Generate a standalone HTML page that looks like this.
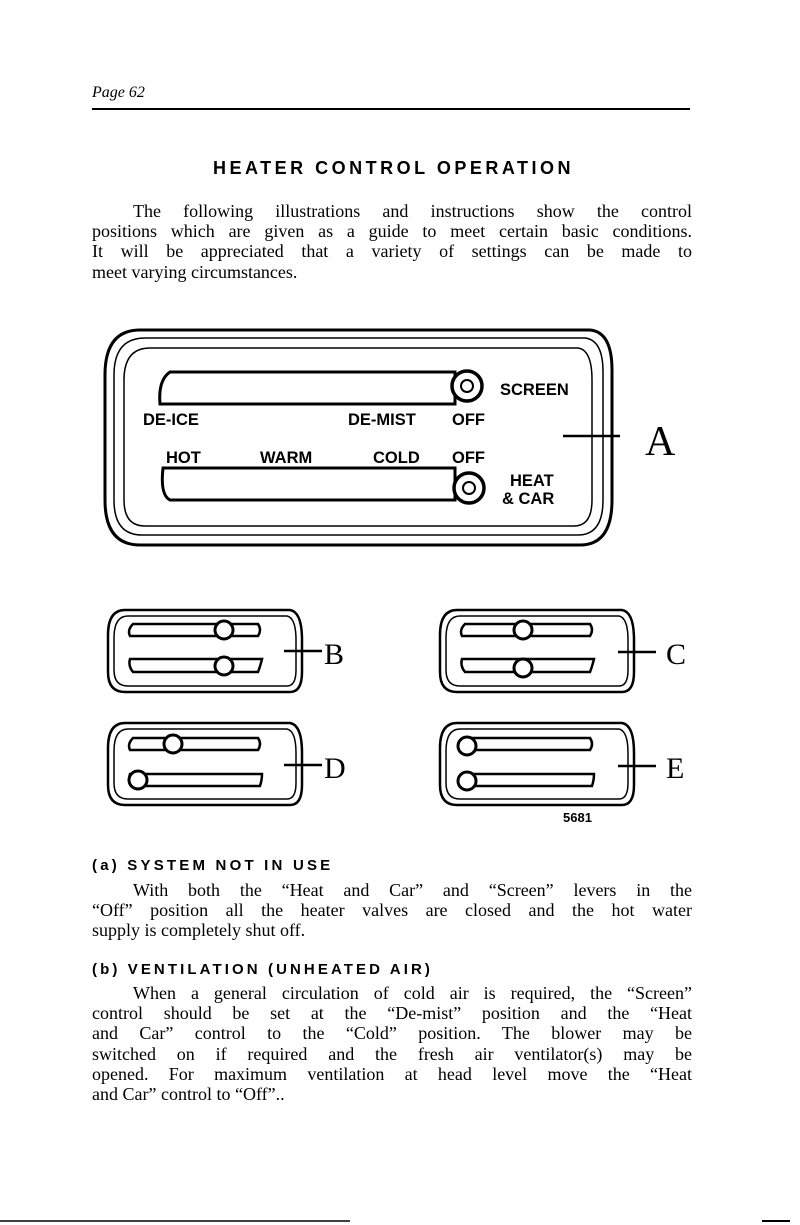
<!DOCTYPE html>
<html><head><meta charset="utf-8"><style>
body{margin:0;width:800px;height:1225px;background:#fff;position:relative;overflow:hidden;font-family:"Liberation Serif",serif;color:#000}
.a{position:absolute}
.p{position:absolute;left:92px;width:600px;font-size:18px;line-height:20.2px;text-align:justify;text-align-last:justify}
.p span{display:block}
.last{text-align-last:left}
.h{position:absolute;font-family:"Liberation Sans",sans-serif;font-weight:bold;font-size:15px;letter-spacing:3.1px}
</style></head><body>
<div class="a" style="left:92px;top:84px;font-style:italic;font-size:16px">Page 62</div>
<div class="a" style="left:92px;top:108px;width:598px;height:1.5px;background:#000"></div>
<div class="a" style="left:213px;top:158px;font-family:'Liberation Sans',sans-serif;font-weight:bold;font-size:18px;letter-spacing:3.5px">HEATER CONTROL OPERATION</div>
<div class="p" style="top:201px">
<span style="padding-left:41px">The following illustrations and instructions show the control</span>
<span>positions which are given as a guide to meet certain basic conditions.</span>
<span>It will be appreciated that a variety of settings can be made to</span>
<span class="last" style="text-align:left">meet varying circumstances.</span>
</div>
<svg class="a" style="left:0;top:0" width="800" height="1225" font-family="Liberation Sans,sans-serif" font-weight="bold">
<g fill="none" stroke="#000">
<path d="M140 330 L590 330 Q612 332 612 370 L612 500 Q612 545 580 545 L140 545 Q105 545 105 500 L105 375 Q105 330 140 330Z" stroke-width="3"/>
<path d="M145 338 L585 338 Q603 340 603 372 L603 500 Q603 535 578 535 L142 535 Q114 535 114 500 L114 375 Q114 338 145 338Z" stroke-width="1.5"/>
<path d="M150 348 L578 348 Q592 350 592 380 L592 500 Q592 526 574 526 L145 526 Q124 526 124 500 L124 380 Q124 348 150 348Z" stroke-width="1.5"/>
<path d="M170 372 L455 372 L455 404 L160 404 Q158 380 170 372Z" stroke-width="3"/>
<path d="M163 468 L455 468 L455 500 L170 500 Q160 495 163 468Z" stroke-width="3"/>
<circle cx="467" cy="386" r="15" stroke-width="3.5" fill="#fff"/>
<circle cx="467" cy="386" r="6" stroke-width="2"/>
<circle cx="469" cy="488" r="15" stroke-width="3.5" fill="#fff"/>
<circle cx="469" cy="488" r="6" stroke-width="2"/>
<line x1="563" y1="436" x2="620" y2="436" stroke-width="2.5"/>
</g>
<g font-size="16.5">
<text x="143" y="425">DE-ICE</text><text x="348" y="425">DE-MIST</text><text x="452" y="425">OFF</text>
<text x="500" y="395">SCREEN</text>
<text x="166" y="463">HOT</text><text x="260" y="463">WARM</text><text x="373" y="463">COLD</text><text x="452" y="463">OFF</text>
<text x="510" y="486">HEAT</text><text x="502" y="504">&amp; CAR</text>
</g>
<text x="645" y="455" font-size="42" font-weight="normal" font-family="Liberation Serif,serif">A</text>
<g fill="none" stroke="#000">
<g id="pb">
<path d="M125 610 L290 610 Q302 612 302 640 L302 672 Q302 692 290 692 L125 692 Q108 692 108 672 L108 635 Q108 610 125 610Z" stroke-width="2.5"/>
<path d="M128 616 L287 616 Q296 618 296 640 L296 670 Q296 686 287 686 L128 686 Q114 686 114 670 L114 638 Q114 616 128 616Z" stroke-width="1.5"/>
</g>
<use href="#pb" x="332"/><use href="#pb" y="113"/><use href="#pb" x="332" y="113"/>
<g stroke-width="2.5">
<path d="M133 624 L258 624 Q262 630 258 636 L130 636 Q127 630 133 624Z"/>
<path d="M130 659 L262 659 Q260 667 258 672 L133 672 Q128 666 130 659Z"/>
<path d="M465 624 L590 624 Q594 630 590 636 L462 636 Q459 630 465 624Z"/>
<path d="M462 659 L594 659 Q592 667 590 672 L465 672 Q460 666 462 659Z"/>
<path d="M133 738 L258 738 Q262 744 258 750 L130 750 Q127 744 133 738Z"/>
<path d="M130 774 L262 774 Q262 780 260 786 L133 786 Q128 780 130 774Z"/>
<path d="M465 738 L590 738 Q594 744 590 750 L462 750 Q459 744 465 738Z"/>
<path d="M462 774 L594 774 Q594 780 592 786 L465 786 Q460 780 462 774Z"/>
</g>
<g stroke-width="3" fill="#fff">
<circle cx="224" cy="630" r="9"/><circle cx="224" cy="666" r="9"/>
<circle cx="523" cy="630" r="9"/><circle cx="523" cy="668" r="9"/>
<circle cx="173" cy="744" r="9"/><circle cx="138" cy="780" r="9"/>
<circle cx="467" cy="746" r="9"/><circle cx="467" cy="781" r="9"/>
</g>
<g stroke-width="2.5">
<line x1="284" y1="651" x2="322" y2="651"/><line x1="618" y1="652" x2="656" y2="652"/>
<line x1="284" y1="765" x2="322" y2="765"/><line x1="618" y1="766" x2="656" y2="766"/>
</g>
</g>
<g font-family="Liberation Serif,serif" font-weight="normal" font-size="30">
<text x="324" y="664">B</text><text x="666" y="664">C</text><text x="324" y="778">D</text><text x="666" y="778">E</text>
</g>
<text x="563" y="822" font-size="13">5681</text>
<line x1="0" y1="1221" x2="350" y2="1221" stroke="#000" stroke-width="1.5"/>
<line x1="762" y1="1221" x2="790" y2="1221" stroke="#000" stroke-width="2"/>
</svg>
<div class="h" style="left:92px;top:857px;letter-spacing:3.2px">(a) SYSTEM NOT IN USE</div>
<div class="p" style="top:880px">
<span style="padding-left:41px">With both the “Heat and Car” and “Screen” levers in the</span>
<span>“Off” position all the heater valves are closed and the hot water</span>
<span class="last" style="text-align:left">supply is completely shut off.</span>
</div>
<div class="h" style="left:92px;top:961px">(b) VENTILATION (UNHEATED AIR)</div>
<div class="p" style="top:983px">
<span style="padding-left:41px">When a general circulation of cold air is required, the “Screen”</span>
<span>control should be set at the “De-mist” position and the “Heat</span>
<span>and Car” control to the “Cold” position. The blower may be</span>
<span>switched on if required and the fresh air ventilator(s) may be</span>
<span>opened. For maximum ventilation at head level move the “Heat</span>
<span class="last" style="text-align:left">and Car” control to “Off”..</span>
</div>
</body></html>
